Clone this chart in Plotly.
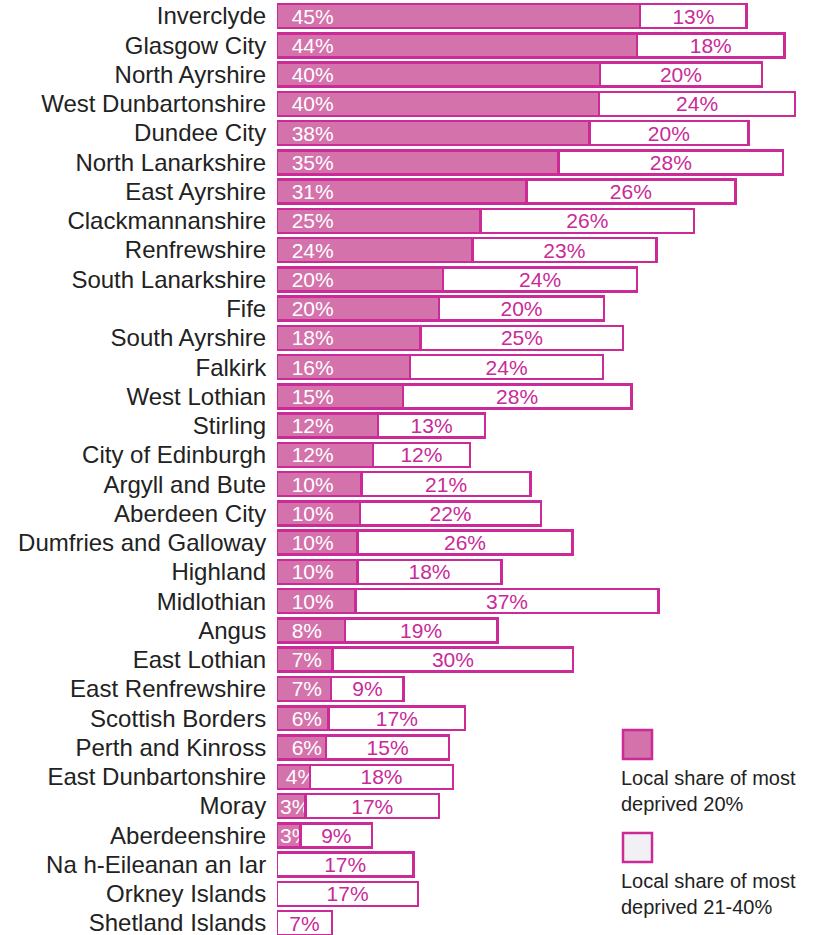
import plotly.graph_objects as go

areas = ["Inverclyde", "Glasgow City", "North Ayrshire", "West Dunbartonshire", "Dundee City",
         "North Lanarkshire", "East Ayrshire", "Clackmannanshire", "Renfrewshire", "South Lanarkshire",
         "Fife", "South Ayrshire", "Falkirk", "West Lothian", "Stirling", "City of Edinburgh",
         "Argyll and Bute", "Aberdeen City", "Dumfries and Galloway", "Highland", "Midlothian",
         "Angus", "East Lothian", "East Renfrewshire", "Scottish Borders", "Perth and Kinross",
         "East Dunbartonshire", "Moray", "Aberdeenshire", "Na h-Eileanan an Iar", "Orkney Islands",
         "Shetland Islands"]

# share of data zones in the most deprived 20% (bar lengths)
most_deprived_20 = [45.0, 44.6, 40.0, 39.9, 38.7, 34.9, 30.9, 25.2, 24.2, 20.6,
                    20.1, 17.8, 16.5, 15.6, 12.5, 11.9, 10.5, 10.3, 10.0, 10.0,
                    9.7, 8.4, 6.9, 6.7, 6.4, 6.1, 4.1, 3.5, 2.9, 0.0, 0.0, 0.0]
# share in the 21-40% most deprived band
most_deprived_21_40 = [13.2, 18.3, 20.1, 24.3, 19.7, 27.8, 25.9, 26.5, 22.8, 24.0,
                       20.4, 25.1, 23.9, 28.3, 13.3, 12.0, 20.9, 22.4, 26.6, 17.8,
                       37.6, 18.9, 29.8, 9.0, 16.9, 15.2, 17.7, 16.6, 8.9, 16.9, 17.5, 6.8]

# printed labels
labels_20 = [45, 44, 40, 40, 38, 35, 31, 25, 24, 20, 20, 18, 16, 15, 12, 12, 10, 10, 10, 10,
             10, 8, 7, 7, 6, 6, 4, 3, 3, 0, 0, 0]
labels_21_40 = [13, 18, 20, 24, 20, 28, 26, 26, 23, 24, 20, 25, 24, 28, 13, 12, 21, 22, 26, 18,
                37, 19, 30, 9, 17, 15, 18, 17, 9, 17, 17, 7]

legend_names = ["Local share of most<br>deprived 20%", "Local share of most<br>deprived 21-40%"]

FILL = "#D472AB"
EDGE = "#CC2A96"
TEXTMAG = "#C92A98"
FONT = "Liberation Sans, Arial, sans-serif"


def inner_label(v):
    if v <= 0:
        return ""
    pad = "\u00a0\u00a0" if v >= 6 else ("\u00a0" if v >= 4 else "")
    return "%s%d%%" % (pad, v)


fig = go.Figure()
fig.add_trace(go.Bar(
    y=areas, x=most_deprived_20, orientation="h",
    marker=dict(color=FILL, line=dict(color=EDGE, width=2.5)),
    text=[inner_label(v) for v in labels_20],
    textposition="inside", insidetextanchor="start", textangle=0,
    textfont=dict(color="white", size=21, family=FONT),
    showlegend=False, hoverinfo="skip",
))
fig.add_trace(go.Bar(
    y=areas, x=most_deprived_21_40, orientation="h",
    marker=dict(color="white", line=dict(color=EDGE, width=2.5)),
    text=["%d%%" % v for v in labels_21_40],
    textposition="inside", insidetextanchor="middle", textangle=0,
    textfont=dict(color=TEXTMAG, size=21, family=FONT),
    showlegend=False, hoverinfo="skip",
))

W, H = 815, 935
L = 277
fig.update_layout(
    width=W, height=H,
    margin=dict(l=L, r=0, t=0, b=0, autoexpand=False),
    paper_bgcolor="white", plot_bgcolor="white",
    barmode="stack", bargap=0.18,
    uniformtext=dict(minsize=21, mode="show"),
    font=dict(family=FONT, color="#222222"),
    xaxis=dict(range=[0, (W - L) / 8.07], visible=False, fixedrange=True, automargin=False),
    yaxis=dict(range=[31.408, -0.547], showgrid=False, zeroline=False, showline=False,
               automargin=False, fixedrange=True,
               ticks="outside", ticklen=5, tickcolor="rgba(0,0,0,0)",
               tickfont=dict(size=24, color="#222222")),
)

def px_x(p):
    return (p - L) / (W - L)

def px_y(p):
    return 1 - p / H

# legend boxes and texts
fills = [FILL, "#F1F0F4"]
box_tops = [730, 833]
text_tops = [765, 868]
for f, bt, tt, name in zip(fills, box_tops, text_tops, legend_names):
    fig.add_shape(type="rect", xref="paper", yref="paper",
                  x0=px_x(623), x1=px_x(652), y0=px_y(bt + 29), y1=px_y(bt),
                  fillcolor=f, line=dict(color=EDGE, width=2.5))
    fig.add_annotation(xref="paper", yref="paper", x=px_x(619), y=px_y(tt),
                       xanchor="left", yanchor="top", align="left", showarrow=False,
                       text=name, font=dict(size=20, color="#222222"))

fig.write_html("out.html", config={"displayModeBar": False},
               post_script="document.body.style.margin='0';")
